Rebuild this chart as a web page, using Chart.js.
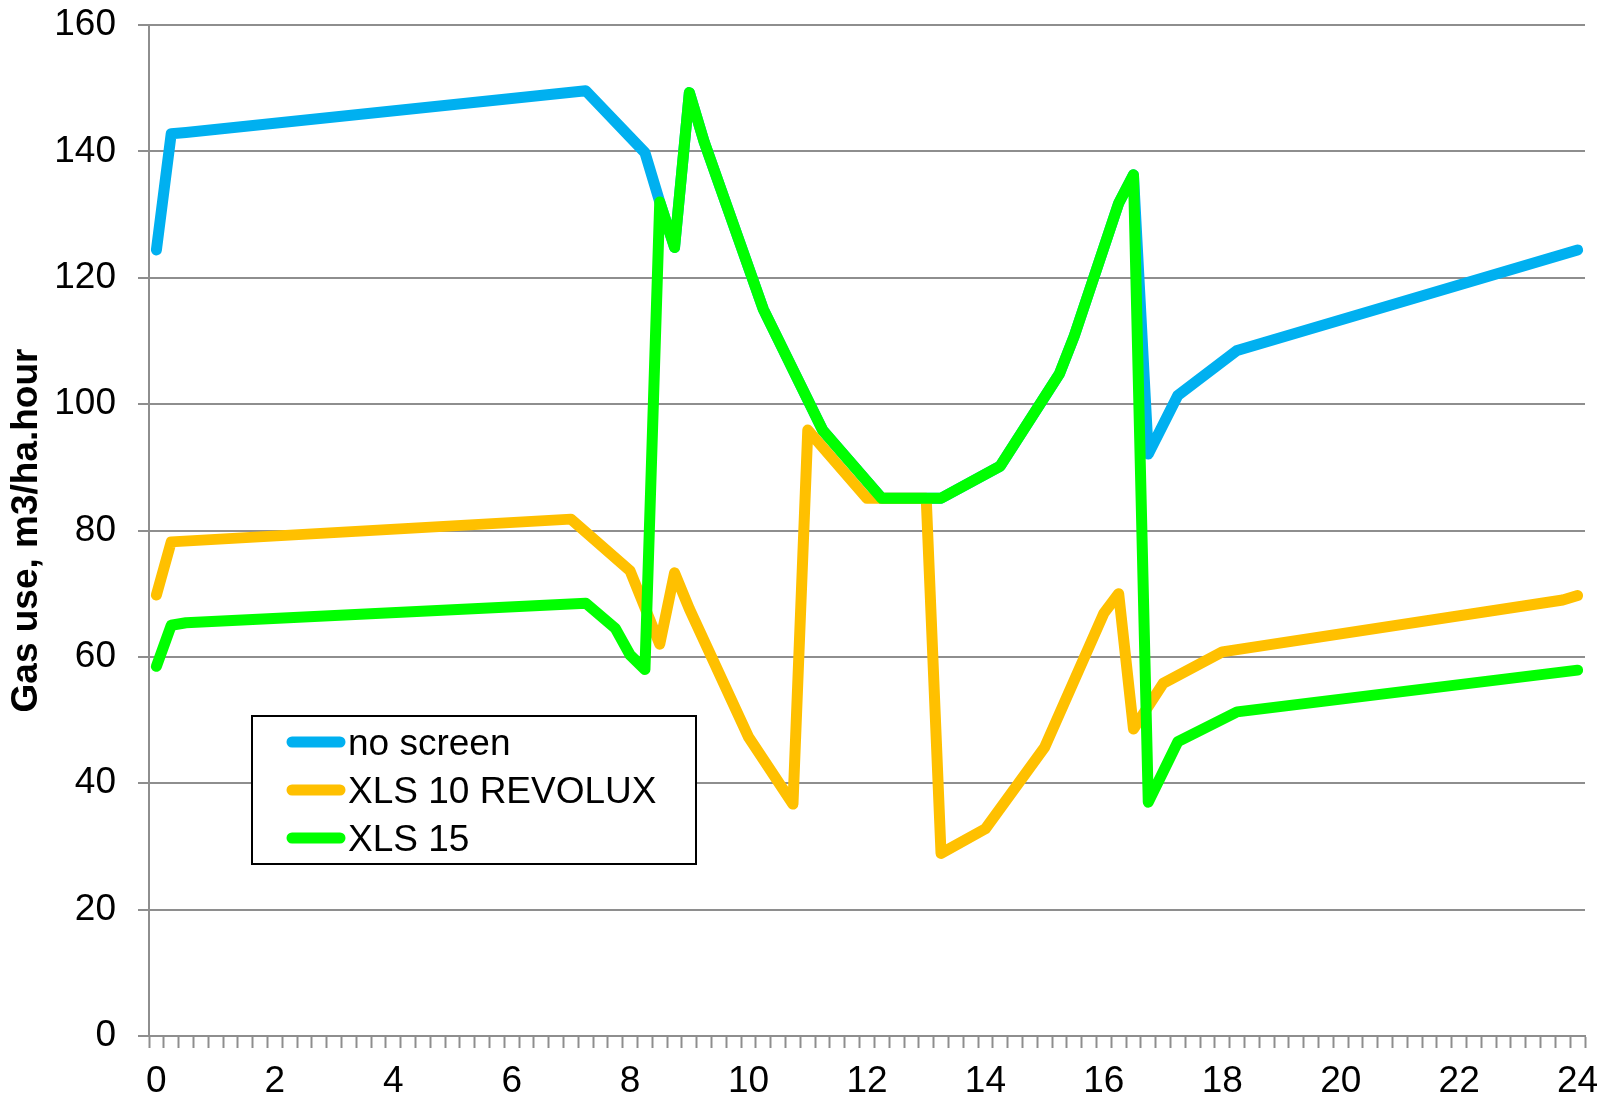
<!DOCTYPE html>
<html>
<head>
<meta charset="utf-8">
<script src="https://cdn.jsdelivr.net/npm/chart.js@4.4.1/dist/chart.umd.min.js"></script>
<style>
  html, body { margin: 0; padding: 0; background: #fff; }
  #wrap { width: 1599px; height: 1099px; position: relative; }
</style>
</head>
<body>
<div id="wrap"><canvas id="c-gas"></canvas></div>
<script>
// values (hour of day, gas use m3/ha.hour)
var noScreenHours = [0, 0.25, 0.5, 7.25, 8.25, 8.5, 8.75, 9, 9.25, 10.25, 11.25, 12.25, 13.25, 14.25, 15.25, 15.5, 16.25, 16.5, 16.75, 17.25, 18.25, 24];
var noScreenGas   = [124.4, 142.8, 143.0, 149.6, 139.8, 132.0, 124.8, 149.3, 141.5, 115.0, 95.9, 85.1, 85.1, 90.2, 104.8, 110.8, 131.8, 136.3, 92.1, 101.4, 108.5, 124.4];

var revoluxHours = [0, 0.25, 7, 8, 8.5, 8.75, 9, 10, 10.75, 11, 12, 13, 13.25, 14, 15, 16, 16.25, 16.5, 17, 18, 23.75, 24];
var revoluxGas   = [69.8, 78.2, 81.8, 73.6, 62.0, 73.3, 67.6, 47.3, 36.7, 95.9, 85.1, 85.1, 28.9, 32.8, 45.7, 66.9, 70.0, 48.6, 55.8, 60.8, 69.0, 69.7];

var xls15Hours = [0, 0.25, 0.5, 7.25, 7.75, 8, 8.25, 8.5, 8.75, 9, 9.25, 10.25, 11.25, 12.25, 13.25, 14.25, 15.25, 15.5, 16.25, 16.5, 16.75, 17.25, 18.25, 24];
var xls15Gas   = [58.5, 65.0, 65.4, 68.5, 64.5, 60.3, 58.0, 132.0, 124.8, 149.3, 141.5, 115.0, 95.9, 85.1, 85.1, 90.2, 104.8, 110.8, 131.8, 136.3, 37.0, 46.6, 51.3, 57.9];

var seriesNames = ['no screen', 'XLS 10 REVOLUX', 'XLS 15'];
var seriesColors = ['#00b0f0', '#ffc000', '#00ff00'];
var yTicks = [0, 20, 40, 60, 80, 100, 120, 140, 160];

function pts(xs, ys) {
  return xs.map(function(x, i) { return {x: x, y: ys[i]}; });
}

var gc = '#8e8e8e';
var fam = '"Liberation Sans", Arial, sans-serif';
Chart.defaults.font.family = fam;
Chart.defaults.color = '#000';

// legend box drawn inside the plot like the excel one
var legendPlugin = {
  id: 'boxLegend',
  afterDraw: function(chart) {
    var ctx = chart.ctx, a = chart.chartArea;
    var bx = a.left + 103, by = a.top + 691, bw = 444, bh = 148;
    ctx.save();
    ctx.fillStyle = '#fff';
    ctx.fillRect(bx, by, bw, bh);
    ctx.strokeStyle = '#000';
    ctx.lineWidth = 2;
    ctx.strokeRect(bx, by, bw, bh);
    ctx.font = '37px ' + fam;
    ctx.textBaseline = 'alphabetic';
    chart.data.datasets.forEach(function(ds, i) {
      var ry = by + 26 + i * 48;
      ctx.strokeStyle = ds.borderColor;
      ctx.lineWidth = 11;
      ctx.lineCap = 'round';
      ctx.beginPath();
      ctx.moveTo(bx + 40, ry);
      ctx.lineTo(bx + 88, ry);
      ctx.stroke();
      ctx.fillStyle = '#000';
      ctx.fillText(ds.label, bx + 96, ry + 13);
    });
    ctx.restore();
  }
};

function lineSet(i, xs, ys, ord) {
  return {
    label: seriesNames[i], data: pts(xs, ys), borderColor: seriesColors[i], backgroundColor: seriesColors[i],
    borderWidth: 11, pointRadius: 0, tension: 0, fill: false, order: ord,
    borderJoinStyle: 'round', borderCapStyle: 'round'
  };
}

new Chart(document.getElementById('c-gas'), {
  type: 'line',
  data: {
    datasets: [
      lineSet(0, noScreenHours, noScreenGas, 2),
      lineSet(1, revoluxHours, revoluxGas, 1),
      lineSet(2, xls15Hours, xls15Gas, 0)
    ]
  },
  options: {
    responsive: true, maintainAspectRatio: false, animation: false,
    layout: {padding: {top: 25, right: 14, bottom: 0, left: 0}},
    plugins: {legend: {display: false}, tooltip: {enabled: false}},
    scales: {
      x: {
        type: 'linear', min: -0.125, max: 24.125,
        afterBuildTicks: function(scale) {
          var t = [];
          for (var k = 0; k <= 194; k++) t.push({value: -0.125 + k * 0.125});
          scale.ticks = t;
        },
        afterFit: function(scale) { scale.height = 63; scale.paddingLeft = 0; scale.paddingRight = 0; },
        border: {display: true, color: gc, width: 2},
        grid: {
          drawOnChartArea: false, drawTicks: true, tickLength: 12, tickWidth: 2,
          tickColor: function(c) { return c.index % 2 === 0 ? gc : 'rgba(0,0,0,0)'; }
        },
        ticks: {
          autoSkip: false, maxRotation: 0, padding: 12, font: {size: 37}, color: '#000',
          callback: function(v, i) { return (i - 1) % 16 === 0 ? String(Math.round(v)) : ''; }
        }
      },
      y: {
        min: 0, max: 160,
        afterBuildTicks: function(scale) { scale.ticks = yTicks.map(function(v) { return {value: v}; }); },
        afterFit: function(scale) { scale.width = 149; scale.paddingTop = 0; scale.paddingBottom = 0; },
        border: {display: true, color: gc, width: 2},
        grid: {color: gc, lineWidth: 2, tickLength: 11},
        ticks: {padding: 22, font: {size: 37}, color: '#000'},
        title: {display: true, text: 'Gas use, m3/ha.hour', font: {size: 37, weight: 'bold'}, color: '#000', padding: {top: 5, bottom: 0}}
      }
    }
  },
  plugins: [legendPlugin]
});
</script>
</body>
</html>
